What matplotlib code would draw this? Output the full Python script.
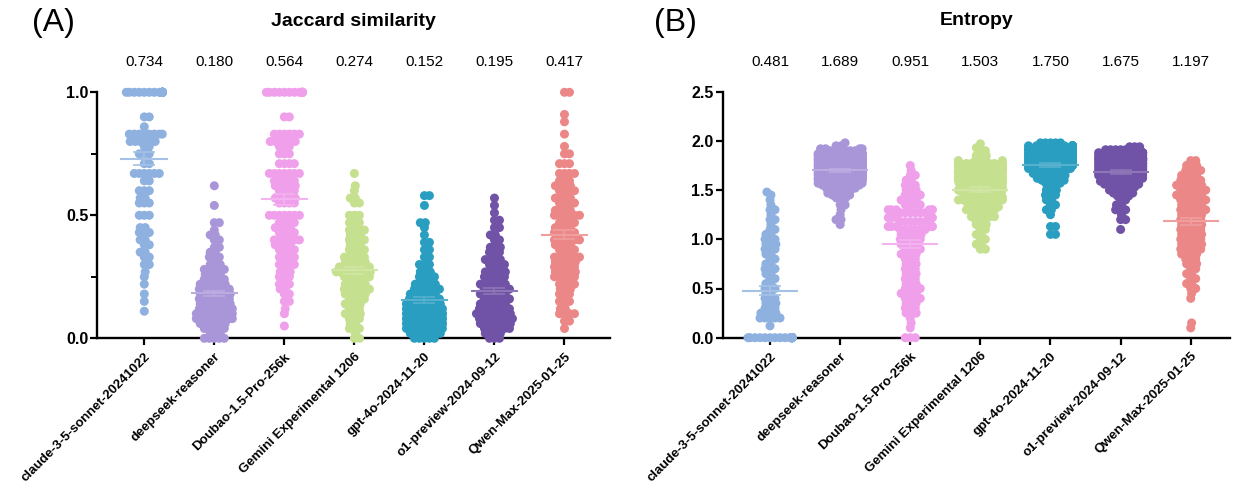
import numpy as np
import matplotlib
matplotlib.use("Agg")
import matplotlib.pyplot as plt
from matplotlib.ticker import MultipleLocator
from matplotlib.colors import to_rgb

plt.rcParams['font.family'] = ['Liberation Sans', 'DejaVu Sans']

models = ["claude-3-5-sonnet-20241022", "deepseek-reasoner", "Doubao-1.5-Pro-256k",
          "Gemini Experimental 1206", "gpt-4o-2024-11-20", "o1-preview-2024-09-12",
          "Qwen-Max-2025-01-25"]
colors = ["#8EB1E0", "#A996D8", "#F0A0EA", "#C5E08E", "#2A9EC0", "#7052A6", "#EC8787"]

jac_labels = ["0.734", "0.180", "0.564", "0.274", "0.152", "0.195", "0.417"]
ent_labels = ["0.481", "1.689", "0.951", "1.503", "1.750", "1.675", "1.197"]

# (value, count) pairs
jac_claude = [(1.0, 34), (0.9, 2), (0.86, 1), (0.83, 8), (0.8, 6), (0.78, 2), (0.75, 3), (0.71, 2),
              (0.67, 6), (0.64, 2), (0.6, 3), (0.57, 2), (0.55, 3), (0.5, 3), (0.45, 2), (0.43, 3),
              (0.4, 2), (0.38, 2), (0.35, 2), (0.33, 2), (0.3, 2), (0.27, 1), (0.25, 1), (0.22, 1),
              (0.18, 1), (0.15, 1), (0.11, 1)]
jac_deepseek = [(0.62, 1), (0.54, 1), (0.47, 2), (0.44, 1), (0.42, 2), (0.4, 2), (0.37, 2), (0.35, 2),
                (0.33, 3), (0.3, 3), (0.28, 5), (0.26, 4), (0.24, 5), (0.22, 6), (0.2, 7), (0.18, 7),
                (0.16, 7), (0.14, 7), (0.12, 8), (0.1, 9), (0.08, 9), (0.06, 6), (0.04, 5), (0.02, 3),
                (0.0, 5)]
jac_doubao = [(1.0, 14), (0.9, 2), (0.83, 6), (0.8, 6), (0.78, 3), (0.75, 3), (0.71, 4), (0.67, 7),
              (0.64, 5), (0.62, 5), (0.6, 4), (0.57, 5), (0.55, 4), (0.5, 7), (0.47, 4), (0.45, 4),
              (0.43, 4), (0.4, 6), (0.38, 4), (0.36, 4), (0.33, 4), (0.3, 4), (0.27, 3), (0.25, 3),
              (0.22, 3), (0.2, 2), (0.18, 2), (0.15, 2), (0.12, 1), (0.1, 1), (0.05, 1)]
jac_gemini = [(0.67, 1), (0.62, 1), (0.6, 1), (0.57, 2), (0.55, 2), (0.5, 3), (0.47, 3), (0.44, 4),
              (0.42, 3), (0.4, 4), (0.38, 3), (0.36, 4), (0.33, 5), (0.31, 5), (0.29, 7), (0.27, 8),
              (0.25, 6), (0.22, 5), (0.2, 6), (0.18, 5), (0.16, 4), (0.14, 4), (0.12, 3), (0.1, 4),
              (0.08, 3), (0.06, 2), (0.04, 3), (0.02, 1), (0.0, 2)]
jac_gpt = [(0.58, 2), (0.54, 1), (0.47, 2), (0.45, 1), (0.42, 1), (0.39, 2), (0.36, 2), (0.33, 2),
           (0.3, 3), (0.27, 3), (0.25, 4), (0.22, 5), (0.2, 6), (0.18, 6), (0.16, 7), (0.14, 8),
           (0.12, 9), (0.1, 10), (0.08, 10), (0.06, 10), (0.04, 9), (0.02, 7), (0.0, 5)]
jac_o1 = [(0.57, 1), (0.54, 1), (0.51, 1), (0.48, 2), (0.45, 2), (0.42, 2), (0.4, 2), (0.37, 3),
          (0.35, 3), (0.32, 4), (0.3, 4), (0.27, 5), (0.25, 5), (0.22, 6), (0.2, 6), (0.18, 6),
          (0.16, 6), (0.14, 6), (0.12, 7), (0.1, 8), (0.08, 8), (0.06, 7), (0.04, 6), (0.02, 4),
          (0.0, 3)]
jac_qwen = [(1.0, 2), (0.91, 1), (0.88, 1), (0.83, 1), (0.78, 1), (0.75, 2), (0.71, 3), (0.67, 4),
            (0.64, 3), (0.62, 4), (0.6, 4), (0.57, 4), (0.55, 4), (0.52, 4), (0.5, 6), (0.47, 4),
            (0.45, 4), (0.43, 5), (0.4, 6), (0.38, 4), (0.36, 4), (0.33, 6), (0.31, 5), (0.29, 5),
            (0.27, 5), (0.25, 5), (0.22, 4), (0.2, 3), (0.18, 3), (0.15, 3), (0.12, 2), (0.1, 4),
            (0.07, 2), (0.04, 1)]

ent_claude = [(0.0, 30), (0.12, 1), (0.2, 5), (0.25, 4), (0.3, 3), (0.35, 3), (0.4, 3), (0.45, 2),
              (0.5, 3), (0.55, 2), (0.6, 2), (0.65, 2), (0.7, 3), (0.75, 2), (0.8, 2), (0.85, 2),
              (0.9, 3), (0.95, 3), (1.0, 3), (1.05, 2), (1.1, 2), (1.15, 1), (1.2, 2), (1.25, 1),
              (1.3, 2), (1.35, 1), (1.4, 1), (1.45, 1), (1.48, 1)]
ent_deepseek = [(1.98, 1), (1.95, 2), (1.92, 4), (1.9, 6), (1.87, 8), (1.85, 9), (1.82, 10), (1.8, 10),
                (1.77, 11), (1.75, 11), (1.72, 10), (1.7, 10), (1.67, 9), (1.65, 8), (1.62, 7),
                (1.6, 6), (1.57, 5), (1.55, 4), (1.52, 3), (1.5, 3), (1.47, 2), (1.45, 2), (1.42, 2),
                (1.4, 1), (1.35, 2), (1.3, 1), (1.25, 1), (1.2, 2), (1.15, 1)]
ent_doubao = [(1.75, 1), (1.7, 1), (1.65, 2), (1.6, 2), (1.55, 3), (1.5, 3), (1.45, 4), (1.4, 4),
              (1.35, 4), (1.3, 6), (1.27, 6), (1.22, 6), (1.18, 6), (1.13, 6), (1.1, 6), (1.05, 5),
              (1.0, 5), (0.95, 4), (0.9, 4), (0.85, 4), (0.8, 3), (0.75, 3), (0.7, 3), (0.65, 3),
              (0.6, 3), (0.55, 3), (0.5, 4), (0.45, 4), (0.4, 4), (0.35, 3), (0.3, 3), (0.25, 3),
              (0.2, 1), (0.15, 1), (0.1, 1), (0.0, 3)]
ent_gemini = [(1.97, 1), (1.93, 1), (1.9, 2), (1.85, 3), (1.8, 5), (1.77, 6), (1.74, 7), (1.7, 7),
              (1.67, 6), (1.63, 6), (1.6, 6), (1.57, 6), (1.53, 6), (1.5, 6), (1.47, 5), (1.43, 5),
              (1.4, 5), (1.37, 4), (1.33, 4), (1.3, 4), (1.27, 3), (1.23, 3), (1.2, 3), (1.15, 3),
              (1.1, 2), (1.05, 2), (1.0, 2), (0.95, 2), (0.9, 2)]
ent_gpt = [(1.98, 5), (1.95, 10), (1.92, 12), (1.9, 12), (1.87, 11), (1.85, 10), (1.82, 9), (1.8, 8),
           (1.77, 7), (1.75, 6), (1.72, 5), (1.7, 4), (1.67, 3), (1.65, 3), (1.62, 3), (1.6, 3),
           (1.57, 2), (1.55, 2), (1.5, 3), (1.45, 3), (1.4, 2), (1.35, 2), (1.3, 2), (1.25, 1),
           (1.13, 2), (1.05, 2)]
ent_o1 = [(1.94, 3), (1.91, 5), (1.88, 7), (1.85, 8), (1.82, 9), (1.8, 9), (1.77, 9), (1.74, 8),
          (1.71, 8), (1.68, 7), (1.65, 7), (1.62, 6), (1.59, 5), (1.56, 5), (1.53, 4), (1.5, 3),
          (1.47, 3), (1.44, 2), (1.4, 2), (1.35, 2), (1.3, 3), (1.25, 1), (1.2, 2), (1.1, 1)]
ent_qwen = [(1.8, 2), (1.75, 3), (1.7, 4), (1.65, 4), (1.6, 5), (1.55, 6), (1.5, 6), (1.45, 6),
            (1.4, 6), (1.35, 5), (1.3, 6), (1.25, 5), (1.2, 5), (1.15, 5), (1.1, 5), (1.05, 5),
            (1.0, 5), (0.95, 5), (0.9, 5), (0.85, 4), (0.8, 3), (0.75, 3), (0.7, 2), (0.65, 2),
            (0.6, 2), (0.55, 2), (0.5, 2), (0.45, 1), (0.4, 1), (0.15, 1), (0.1, 1)]

jaccard = [jac_claude, jac_deepseek, jac_doubao, jac_gemini, jac_gpt, jac_o1, jac_qwen]
entropy = [ent_claude, ent_deepseek, ent_doubao, ent_gemini, ent_gpt, ent_o1, ent_qwen]


def expand(pairs):
    v = [p[0] for p in pairs]
    c = [p[1] for p in pairs]
    return np.repeat(np.array(v, float), c)


def lighten(c, f):
    r = np.array(to_rgb(c))
    return tuple(r + (1 - r) * f)


def swarm(ax, xc, vals, spacing, maxoff):
    pts = ax.transData.transform(np.column_stack([np.full(len(vals), xc), vals]))
    ys = pts[:, 1]
    order = np.argsort(vals, kind="stable")
    px_list, py_list = [], []
    offs = np.zeros(len(vals))
    for i in order:
        y = ys[i]
        cands = [0.0]
        for px, py in zip(px_list, py_list):
            dy = abs(py - y)
            if dy < spacing:
                dx = np.sqrt(spacing ** 2 - dy ** 2)
                cands += [px + dx, px - dx]
        cands = sorted(cands, key=lambda c: (abs(round(c, 3)), -c))
        chosen = cands[-1]
        for c in cands:
            ok = True
            for px, py in zip(px_list, py_list):
                if (px - c) ** 2 + (py - y) ** 2 < spacing ** 2 - 1e-6:
                    ok = False
                    break
            if ok:
                chosen = c
                break
        chosen = float(np.clip(chosen, -maxoff, maxoff))
        px_list.append(chosen)
        py_list.append(y)
        offs[i] = chosen
    x0 = ax.transData.transform((xc, 0))[0]
    x1 = ax.transData.transform((xc + 1, 0))[0]
    return xc + offs / (x1 - x0)


W, H = 1234, 493
fig = plt.figure(figsize=(W / 100, H / 100), dpi=100)

panels = [
    dict(data=jaccard, labels=jac_labels, title="Jaccard similarity", tag="(A)",
         rect=[97.3 / W, (H - 338.3) / H, (610 - 97.3) / W, 246 / H],
         ylim=(0, 1.0), major=0.5, minor=0.25, xlim=(-0.671, 6.65), mw=0.34, maxoff=18, tagx=32),
    dict(data=entropy, labels=ent_labels, title="Entropy", tag="(B)",
         rect=[722.7 / W, (H - 337.7) / H, (1230 - 722.7) / W, 246 / H],
         ylim=(0, 2.5), major=0.5, minor=None, xlim=(-0.675, 6.56), mw=0.4, maxoff=22, tagx=654),
]

dot_d_px = 9.0
s_pt2 = (dot_d_px * 0.72) ** 2

for p in panels:
    ax = fig.add_axes(p["rect"])
    ax.set_xlim(*p["xlim"])
    ax.set_ylim(*p["ylim"])
    for sp in ["top", "right"]:
        ax.spines[sp].set_visible(False)
    for sp in ["left", "bottom"]:
        ax.spines[sp].set_linewidth(1.7)
    ax.yaxis.set_major_locator(MultipleLocator(p["major"]))
    if p["minor"]:
        ax.yaxis.set_minor_locator(MultipleLocator(p["minor"]))
    ax.tick_params(axis="both", which="major", direction="out", length=5, width=1.6,
                   labelsize=11.5, pad=1.5)
    ax.tick_params(axis="y", which="minor", direction="out", length=4.5, width=1.4)
    ax.yaxis.set_major_formatter(matplotlib.ticker.FormatStrFormatter("%.1f"))
    for lab in ax.get_yticklabels():
        lab.set_fontweight("bold")
    ax.set_xticks(range(len(models)))
    ax.set_xticklabels(models, rotation=45, ha="right", rotation_mode="anchor",
                       fontweight="bold", fontsize=9.5)
    ax.tick_params(axis="x", pad=4)

    for i, (pairs, col) in enumerate(zip(p["data"], colors)):
        vals = expand(pairs)
        xs = swarm(ax, i, vals, 5.0, p["maxoff"])
        ax.scatter(xs, vals, s=s_pt2, color=col, edgecolors="none", clip_on=False, zorder=3)
        m = vals.mean()
        sem = vals.std(ddof=1) / np.sqrt(len(vals))
        lc = lighten(col, 0.2)
        ax.hlines(m, i - p["mw"], i + p["mw"], color=lc, lw=1.5, zorder=4)
        ax.errorbar(i, m, yerr=sem, fmt="none", ecolor=lc, elinewidth=1.2, capsize=8,
                    capthick=1.2, zorder=4)
        ax.text(i, 1.122, p["labels"][i], transform=ax.get_xaxis_transform(),
                ha="center", va="center", fontsize=11)

    ax.text(0.5, 1.289, p["title"], transform=ax.transAxes, ha="center", va="center",
            fontsize=14, fontweight="bold")
    fig.text(p["tagx"] / W, (H - 23) / H, p["tag"], ha="left", va="center", fontsize=23)

fig.savefig("out.png", dpi=100)
